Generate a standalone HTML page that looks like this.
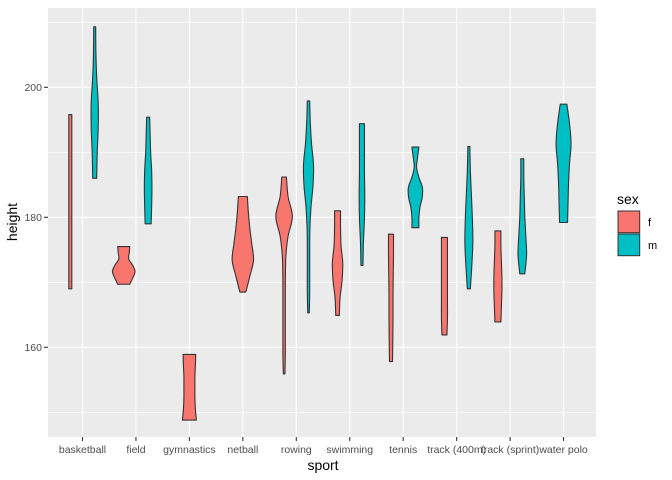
<!DOCTYPE html>
<html><head><meta charset="utf-8"><style>
body{margin:0;background:#fff;}
svg{display:block;font-family:"Liberation Sans",sans-serif;}
</style></head><body>
<svg id="chart" width="672" height="480">
<rect x="0" y="0" width="672" height="480" fill="#fff"/>
<rect x="48" y="8" width="548" height="429" fill="#ebebeb"/>
<g id="grid"></g>
<g id="violins"></g>
<g id="axes"></g>
<text x="323" y="470" text-anchor="middle" font-size="14" fill="#000">sport</text>
<text x="0" y="0" transform="translate(17,222) rotate(-90)" text-anchor="middle" font-size="14" fill="#000">height</text>
<g>
<text x="617" y="204" font-size="14" fill="#000">sex</text>
<rect x="618" y="211" width="21.7" height="21.7" fill="#F8766D" stroke="#333" stroke-width="1"/>
<rect x="618" y="234" width="21.7" height="21.7" fill="#00BFC4" stroke="#333" stroke-width="1"/>
<text x="648" y="226" font-size="11" fill="#000">f</text>
<text x="648" y="249" font-size="11" fill="#000">m</text>
</g>
</svg>
<script>
const categories=["basketball","field","gymnastics","netball","rowing","swimming","tennis","track (400m)","track (sprint)","water polo"];
const yTicks=[160,180,200];
const yMinor=[150,170,190,210];
// violins: sport index, sex, min, max, density profile (bottom to top)
const vSport=[0,0,1,1,2,3,4,4,5,5,6,6,7,7,8,8,9];
const vSex=["f","m","f","m","f","f","f","m","f","m","f","m","f","m","f","m","m"];
const vMin=[169.0,186.0,169.7,179.0,148.8,168.5,155.9,165.3,164.9,172.6,157.8,178.4,161.9,169.0,163.9,171.3,179.2];
const vMax=[195.8,209.3,175.5,195.4,158.9,183.2,186.2,197.9,181.0,194.4,177.4,190.8,176.9,190.9,177.9,189.0,197.4];
const vDens=[
[1.5,1.5,1.5,1.5,1.5,1.5,1.5],
[2,2.5,3.5,3.5,2,1.2,1],
[6,9,11.3,9,5,5.5,6],
[3,3.5,3.8,3.5,2.5,2,1.5],
[7,6,5.5,5.5,5.5,6,6.3],
[3,7,10.7,9,7,5.5,4.5],
[0.8,1.2,1.2,1.2,1.2,1.3,1.8,4,8.3,4,2.3],
[0.8,1.2,1.2,1.2,1.4,2.5,4.5,5,3,1.8,1.2],
[1.8,2.5,4.5,5.2,3.5,3,3],
[1,1.5,2.5,2.8,2.5,2.5,2.5],
[1.5,1.8,2,2,2.2,2.5,2.5],
[3.5,3.5,4.5,6.8,7,3.5,1.2,2.2,3.5],
[2.5,3,3,3,3,3,3],
[1.5,3,4,3.5,2.5,1.5,1],
[3,3.5,4,4,3.5,3,3],
[2.5,4.3,3.5,2.5,2,1.5,1.5],
[4,4.5,5,6,7.5,6,3.3]
];
const NS="http://www.w3.org/2000/svg";
const xS=i=>82.5+i*53.45;
const yS=v=>87.3+(200-v)*6.5;
const svg=document.getElementById('chart');
const grid=document.getElementById('grid'),vg=document.getElementById('violins'),ax=document.getElementById('axes');
function mk(tag,attrs,parent){const e=document.createElementNS(NS,tag);for(const k in attrs)e.setAttribute(k,attrs[k]);parent.appendChild(e);return e;}
yMinor.forEach(v=>{const l=mk('line',{x1:48,x2:596,y1:yS(v),y2:yS(v),stroke:'#fff','stroke-width':0.55},grid);

});
yTicks.forEach(v=>{const l=mk('line',{x1:48,x2:596,y1:yS(v),y2:yS(v),stroke:'#fff','stroke-width':1.1},grid);


const t=mk('line',{x1:44,x2:48,y1:yS(v),y2:yS(v),stroke:'#333','stroke-width':1.1},ax);


const tx=mk('text',{x:42,y:yS(v)+3.5,'text-anchor':'end','font-size':'10.5',fill:'#4d4d4d'},ax);
tx.textContent=v;

});
categories.forEach((c,i)=>{const x=xS(i);
const l=mk('line',{x1:x,x2:x,y1:8,y2:437,stroke:'#fff','stroke-width':1.1},grid);


const t=mk('line',{x1:x,x2:x,y1:437,y2:441,stroke:'#333','stroke-width':1.1},ax);


const tx=mk('text',{x:x,y:453,'text-anchor':'middle','font-size':'10.5',fill:'#4d4d4d'},ax);
tx.textContent=c;

});
function curve(pts){let d='';for(let i=0;i<pts.length-1;i++){const p0=pts[Math.max(i-1,0)],p1=pts[i],p2=pts[i+1],p3=pts[Math.min(i+2,pts.length-1)];
const c1=[p1[0]+(p2[0]-p0[0])/6,p1[1]+(p2[1]-p0[1])/6],c2=[p2[0]-(p3[0]-p1[0])/6,p2[1]-(p3[1]-p1[1])/6];
d+=` C${c1[0].toFixed(2)},${c1[1].toFixed(2)} ${c2[0].toFixed(2)},${c2[1].toFixed(2)} ${p2[0].toFixed(2)},${p2[1].toFixed(2)}`;}return d;}
vSport.forEach((s,k)=>{
  const both=vSport.filter(q=>q===s).length>1;
  const cx=xS(s)+(both?(vSex[k]==='f'?-12.2:12.2):0);
  const d=vDens[k],n=d.length;
  const ys=d.map((_,j)=>yS(vMin[k]+(vMax[k]-vMin[k])*j/(n-1)));
  const right=d.map((w,j)=>[cx+w,ys[j]]);
  const left=d.map((w,j)=>[cx-w,ys[j]]).reverse();
  let path=`M${right[0][0]},${right[0][1]}`+curve(right)+` L${left[0][0]},${left[0][1]}`+curve(left)+'Z';
  const p=mk('path',{d:path,fill:vSex[k]==='f'?'#F8766D':'#00BFC4',stroke:'#333','stroke-width':1.1,'stroke-linejoin':'round'},vg);
  
  
});
</script>
</body></html>
